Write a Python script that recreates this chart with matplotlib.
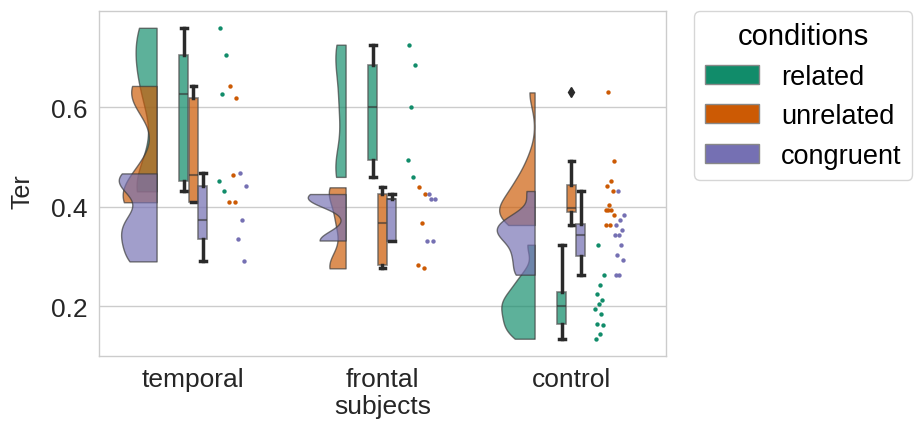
import numpy as np
import matplotlib
matplotlib.use("Agg")
import matplotlib.pyplot as plt
from matplotlib.patches import Patch

plt.rcParams["font.family"] = ["Liberation Sans", "DejaVu Sans"]

subjects = ["temporal", "frontal", "control"]
conditions = ["related", "unrelated", "congruent"]
colors = ["#118c6a", "#cc5a04", "#7570b3"]

# Ter values per subject group / condition, read from the strip points
temporal_related = [0.760, 0.706, 0.627, 0.451, 0.431]
temporal_unrelated = [0.643, 0.618, 0.464, 0.409, 0.409]
temporal_congruent = [0.467, 0.442, 0.374, 0.335, 0.290]

frontal_related = [0.726, 0.685, 0.600, 0.494, 0.460]
frontal_unrelated = [0.439, 0.4255, 0.367, 0.283, 0.276]
frontal_congruent = [0.4255, 0.4155, 0.4155, 0.332, 0.332]

control_related = [0.3235, 0.2632, 0.243, 0.2244, 0.2129, 0.2042,
                   0.1942, 0.1835, 0.164, 0.1626, 0.1439, 0.1344]
control_unrelated = [0.630, 0.4913, 0.4517, 0.4417, 0.4316, 0.4028,
                     0.3928, 0.3928, 0.3928, 0.3827, 0.3632, 0.3632]
control_congruent = [0.4316, 0.3827, 0.3726, 0.3632, 0.3531, 0.343,
                     0.343, 0.3235, 0.3034, 0.2927, 0.2632, 0.2632]

data = {
    "temporal": [temporal_related, temporal_unrelated, temporal_congruent],
    "frontal": [frontal_related, frontal_unrelated, frontal_congruent],
    "control": [control_related, control_unrelated, control_congruent],
}

BW = 0.4
VIOL_EDGE = -0.195
VIOL_W = 0.2
BOX_W = 0.05
STRIP_OFF = [0.15, 0.205, 0.255]


def kde(vals, n=120):
    v = np.asarray(vals)
    sd = BW * v.std(ddof=1)
    grid = np.linspace(v.min(), v.max(), n)
    dens = np.exp(-0.5 * ((grid[:, None] - v[None, :]) / sd) ** 2).sum(1)
    dens /= len(v) * sd * np.sqrt(2 * np.pi)
    return grid, dens


fig = plt.figure(figsize=(9.16, 4.31), dpi=100)
ax = fig.add_axes([0.108, 0.1717, 0.727 - 0.108, 0.971 - 0.1717])

for ci, subj in enumerate(subjects):
    groups = data[subj]
    kdes = [kde(g) for g in groups]
    dmax = max(d.max() for _, d in kdes)
    right = ci + VIOL_EDGE
    for hi, (grid, dens) in enumerate(kdes):
        w = VIOL_W * dens / dmax
        ax.fill_betweenx(grid, right - w, right, facecolor=colors[hi],
                         alpha=0.68, edgecolor="#3a3a3a", linewidth=1.0,
                         zorder=2 + hi)

    for hi, g in enumerate(groups):
        pos = ci + (hi - 1) * BOX_W
        bp = ax.boxplot([g], positions=[pos], widths=BOX_W * 0.95,
                        patch_artist=True, whis=1.5, manage_ticks=False,
                        boxprops=dict(facecolor=colors[hi], alpha=0.72,
                                      edgecolor="#555555", linewidth=1.2),
                        whiskerprops=dict(color="#2a2a2a", linewidth=2.5),
                        capprops=dict(color="#2a2a2a", linewidth=2.5),
                        medianprops=dict(color="#333333", alpha=0.6,
                                         linewidth=1.5),
                        flierprops=dict(marker="d", markerfacecolor="#2a2a2a",
                                        markeredgecolor="#2a2a2a",
                                        markersize=5))
        for c in bp["caps"]:
            mid = c.get_xdata().mean()
            c.set_xdata([mid - BOX_W * 0.3, mid + BOX_W * 0.3])
        for k in ("boxes", "whiskers", "caps", "medians", "fliers"):
            for a in bp[k]:
                a.set_zorder(10 + hi)

        n = len(g)
        jit = ((np.arange(n) * 0.618 + 0.3) % 1.0 - 0.5) * 0.05
        ax.scatter(ci + STRIP_OFF[hi] + jit, g, s=10, color=colors[hi],
                   linewidths=0, zorder=15)

ax.set_xlim(-0.5, 2.5)
ax.set_ylim(0.0996, 0.7928)
ax.set_xticks(range(len(subjects)))
ax.set_xticklabels(subjects)
ax.set_yticks([0.2, 0.4, 0.6])
ax.set_yticklabels(["0.2", "0.4", "0.6"])
ax.tick_params(length=0, labelsize=19, colors="#262626", pad=8)
ax.set_xlabel("subjects", fontsize=19, color="#262626", labelpad=2)
ax.set_ylabel("Ter", fontsize=18, color="#262626")
ax.yaxis.set_label_coords(-0.113, 0.48)
ax.grid(axis="y", color="#cccccc", linewidth=1.0)
ax.set_axisbelow(True)
for s in ax.spines.values():
    s.set_color("#cccccc")
    s.set_linewidth(1.0)

handles = [Patch(facecolor=c, edgecolor="#888888", label=l)
           for c, l in zip(colors, conditions)]
leg = ax.legend(handles=handles, title="conditions", loc="upper left",
                bbox_to_anchor=(1.05, 1.0), borderaxespad=0, fontsize=19.5,
                title_fontsize=21, frameon=True, edgecolor="#cccccc",
                fancybox=True)
leg.get_frame().set_linewidth(1.0)

fig.savefig("out.png", dpi=100)
